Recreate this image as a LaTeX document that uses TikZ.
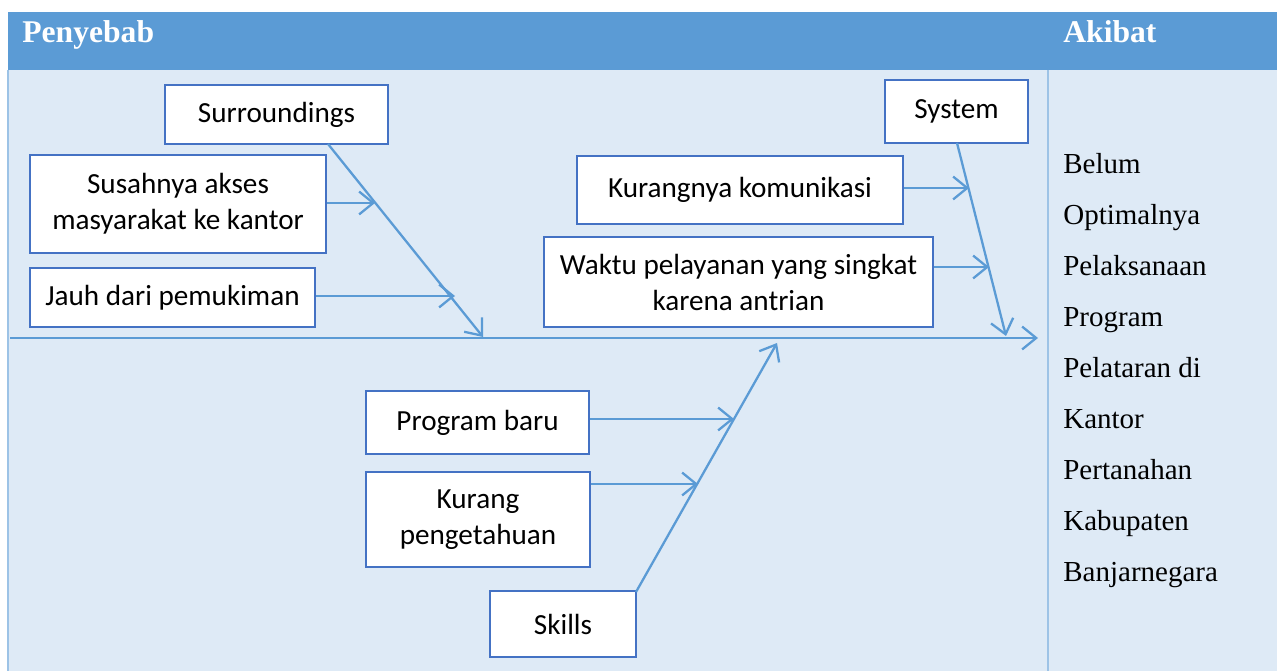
\documentclass[tikz,border=0pt]{standalone}
\usepackage{fontspec}
\setmainfont{Liberation Serif}
\newfontfamily\boxfont{Carlito}
\usepackage{xcolor}
\usetikzlibrary{arrows.meta}
\definecolor{headblue}{HTML}{5B9BD5}
\definecolor{paleblue}{HTML}{DEEAF6}
\definecolor{edgeblue}{HTML}{4472C4}
\definecolor{ruleblue}{HTML}{9DC3E6}

\begin{document}
\begin{tikzpicture}[x=0.02cm, y=-0.02cm,
  box/.style={draw=edgeblue, line width=1.4pt, fill=white, align=center, inner sep=0pt,
    font=\boxfont\fontsize{16.6}{20.5}\selectfont},
  bone/.style={headblue, line width=1.3pt, -{Straight Barb[length=8pt,width=13pt]}}]
\useasboundingbox (0,0) rectangle (1277,671);
% table background
\fill[paleblue] (8,70) rectangle (1277,671);
\fill[headblue] (8,12) rectangle (1277,70);
\draw[ruleblue, line width=1.2pt] (8,70) -- (8,671);
\draw[ruleblue, line width=1.2pt] (1048,70) -- (1048,671);
\node[anchor=base west, inner sep=0pt, white, font=\bfseries\fontsize{18}{22}\selectfont] (penyebab) at (22,43) {Penyebab};
\node[anchor=base west, inner sep=0pt, white, font=\bfseries\fontsize{18}{22}\selectfont] (akibat) at (1063,43) {Akibat};
\node[anchor=north west, inner sep=0pt, align=left, font=\fontsize{16.5}{29}\selectfont] (effect) at (1063,153)
  {Belum\\Optimalnya\\Pelaksanaan\\Program\\Pelataran di\\Kantor\\Pertanahan\\Kabupaten\\Banjarnegara};
% cause boxes
\node[box, minimum width=4.46cm, minimum height=1.18cm] (surr) at (276.5,114.5) {Surroundings};
\node[box, minimum width=5.92cm, minimum height=1.96cm] (akses) at (178,204) {Susahnya akses\\masyarakat ke kantor};
\node[box, minimum width=5.70cm, minimum height=1.18cm] (jauh) at (172.5,297.5) {Jauh dari pemukiman};
\node[box, minimum width=2.86cm, minimum height=1.26cm] (system) at (956.5,111.5) {System};
\node[box, minimum width=6.52cm, minimum height=1.36cm] (komunikasi) at (740,190) {Kurangnya komunikasi};
\node[box, minimum width=7.78cm, minimum height=1.80cm] (waktu) at (738.5,282) {Waktu pelayanan yang singkat\\karena antrian};
\node[box, minimum width=4.46cm, minimum height=1.26cm] (program) at (477.5,422.5) {Program baru};
\node[box, minimum width=4.48cm, minimum height=1.90cm] (pengetahuan) at (478,519.5) {Kurang\\pengetahuan};
\node[box, minimum width=2.92cm, minimum height=1.32cm] (skills) at (563,624) {Skills};
% spine and bones
\coordinate (tail) at (10,338);
\coordinate (head) at (1038,338);
\coordinate (surrfoot) at (328,144);
\coordinate (surrtip) at (483,337);
\coordinate (sysfoot) at (957,143);
\coordinate (systip) at (1006,336);
\coordinate (skillfoot) at (636,592);
\coordinate (skilltip) at (777,343);
\coordinate (aksestip) at (375,203);
\coordinate (jauhtip) at (455,296);
\coordinate (komtip) at (969,188);
\coordinate (waktutip) at (989,267);
\coordinate (progtip) at (734,419);
\coordinate (pengtip) at (698,484);
\draw[bone] (tail) -- (head);
\draw[bone] (surrfoot) -- (surrtip);
\draw[bone] (sysfoot) -- (systip);
\draw[bone] (skillfoot) -- (skilltip);
\draw[bone] (akses.east |- aksestip) -- (aksestip);
\draw[bone] (jauh.east |- jauhtip) -- (jauhtip);
\draw[bone] (komunikasi.east |- komtip) -- (komtip);
\draw[bone] (waktu.east |- waktutip) -- (waktutip);
\draw[bone] (program.east |- progtip) -- (progtip);
\draw[bone] (pengetahuan.east |- pengtip) -- (pengtip);
\end{tikzpicture}
\end{document}
